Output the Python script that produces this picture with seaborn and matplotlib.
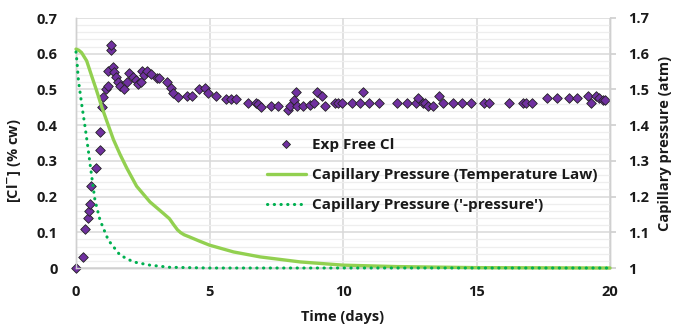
import numpy as np
import pandas as pd
import matplotlib
matplotlib.use("Agg")
import matplotlib.pyplot as plt
import seaborn as sns
from matplotlib.ticker import MultipleLocator
from matplotlib.lines import Line2D

# ---------------- data ----------------
time_exp = [0, 0.27, 0.34, 0.44, 0.50, 0.54, 0.57, 0.75, 0.90, 0.90, 0.99, 1.00, 1.11, 1.21,
            1.21, 1.30, 1.30, 1.37, 1.42, 1.49, 1.57, 1.65, 1.80, 1.90, 2.00, 2.15, 2.25, 2.33,
            2.42, 2.47, 2.55, 2.67, 2.80, 3.05, 3.12, 3.42, 3.55, 3.65, 3.83, 4.15, 4.33, 4.60,
            4.83, 4.96, 5.25, 5.60, 5.80, 6.00, 6.45, 6.74, 6.83, 6.93, 7.30, 7.58, 7.93, 8.01,
            8.15, 8.24, 8.27, 8.51, 8.78, 8.91, 9.02, 9.22, 9.33, 9.70, 9.82, 9.97, 10.33, 10.64,
            10.76, 10.98, 11.36, 12.03, 12.38, 12.73, 12.82, 12.99, 13.07, 13.20, 13.38, 13.61,
            13.76, 14.11, 14.45, 14.78, 15.29, 15.48, 16.23, 16.73, 16.85, 17.07, 17.63, 18.00,
            18.48, 18.75, 19.19, 19.28, 19.48, 19.60, 19.73, 19.81]
cl_exp = [0.0, 0.03, 0.11, 0.14, 0.16, 0.18, 0.23, 0.28, 0.33, 0.38, 0.45, 0.48, 0.50, 0.51,
          0.552, 0.61, 0.624, 0.563, 0.549, 0.535, 0.521, 0.509, 0.50, 0.521, 0.545, 0.535, 0.526, 0.514,
          0.521, 0.552, 0.54, 0.552, 0.543, 0.533, 0.531, 0.521, 0.503, 0.49, 0.479, 0.481, 0.481, 0.50,
          0.503, 0.49, 0.481, 0.472, 0.472, 0.472, 0.463, 0.463, 0.459, 0.452, 0.453, 0.453, 0.443, 0.453,
          0.471, 0.492, 0.453, 0.453, 0.457, 0.462, 0.492, 0.481, 0.453, 0.462, 0.462, 0.462, 0.462, 0.462,
          0.492, 0.462, 0.462, 0.462, 0.462, 0.462, 0.475, 0.462, 0.462, 0.453, 0.453, 0.481,
          0.462, 0.462, 0.461, 0.461, 0.461, 0.461, 0.461, 0.461, 0.461, 0.461, 0.475, 0.475,
          0.475, 0.475, 0.482, 0.462, 0.482, 0.475, 0.470, 0.470]

time_temp = [0, 0.10, 0.21, 0.40, 0.59, 0.77, 0.96, 1.15, 1.40, 1.65, 1.90, 2.27, 2.77, 3.27,
             3.50, 3.65, 3.80, 3.92, 4.05, 4.25, 4.60, 5.00, 5.90, 6.90, 8.40, 10, 12, 15, 20]
p_temp = [1.613, 1.610, 1.603, 1.580, 1.537, 1.497, 1.452, 1.412, 1.360, 1.318, 1.280, 1.229,
          1.185, 1.153, 1.138, 1.122, 1.107, 1.099, 1.093, 1.087, 1.076, 1.064, 1.045, 1.031,
          1.017, 1.008, 1.004, 1.001, 1.000]

time_pres = [0, 0.04, 0.09, 0.21, 0.34, 0.46, 0.60, 0.71, 0.90, 1.21, 1.65, 2.15, 2.77, 3.5, 5, 20]
p_pres = [1.605, 1.575, 1.526, 1.460, 1.395, 1.330, 1.250, 1.190, 1.134, 1.078, 1.036, 1.017,
          1.008, 1.002, 1.000, 1.000]

label_exp = "Exp Free Cl"
label_temp = "Capillary Pressure (Temperature Law)"
label_pres = "Capillary Pressure ('-pressure')"

df_exp = pd.DataFrame({"t": time_exp, "c": cl_exp})
df_temp = pd.DataFrame({"t": time_temp, "p": p_temp})
df_pres = pd.DataFrame({"t": time_pres, "p": p_pres})

# ---------------- style ----------------
sns.set_theme(style="white")
plt.rcParams["font.family"] = ["Open Sans", "DejaVu Sans"]
plt.rcParams["font.weight"] = "bold"
plt.rcParams["mathtext.default"] = "bf"
txt = "#1a1a1a"
FS = 10.5
LFS = 11

fig = plt.figure(figsize=(6.76, 3.30), dpi=100)
ax = fig.add_axes([76 / 676, 1 - 268 / 330, (610 - 76) / 676, (268 - 18) / 330])
ax2 = ax.twinx()

purple = "#7030A0"
light_green = "#92D050"
green = "#00B050"

sns.scatterplot(data=df_exp, x="t", y="c", ax=ax, marker="D", s=24, color=purple,
                edgecolor="#222222", linewidth=0.6, zorder=3, clip_on=False, legend=False)
sns.lineplot(data=df_temp, x="t", y="p", ax=ax2, color=light_green, lw=2.4,
             legend=False, clip_on=False, zorder=4)
sns.lineplot(data=df_pres, x="t", y="p", ax=ax2, color=green, lw=2.2,
             linestyle=(0, (0.1, 2.1)), dash_capstyle="round", legend=False,
             clip_on=False, zorder=4)

ax.set_xlim(0, 20)
ax.set_ylim(0, 0.7)
ax2.set_ylim(1, 1.7)

ax.xaxis.set_major_locator(MultipleLocator(5))
ax.yaxis.set_major_locator(MultipleLocator(0.1))
ax.yaxis.set_minor_locator(MultipleLocator(0.02))
ax2.yaxis.set_major_locator(MultipleLocator(0.1))

ax.grid(True, which="major", axis="both", color="#d9d9d9", lw=1.1)
ax.grid(True, which="minor", axis="y", color="#eeeeee", lw=0.9)
ax.set_axisbelow(True)

for a in (ax, ax2):
    for s in a.spines.values():
        s.set_color("#d0d0d0")
        s.set_linewidth(1.0)
    a.spines["top"].set_visible(False)

ax.tick_params(axis="y", which="both", length=0, pad=13, labelsize=FS, labelcolor=txt)
ax.tick_params(axis="x", which="both", length=0, pad=12, labelsize=FS, labelcolor=txt)
ax2.tick_params(axis="y", which="major", length=4, color="#d0d0d0", pad=9, labelsize=FS,
                labelcolor=txt)
ax2.tick_params(axis="y", which="minor", length=0)

ax.set_xticks([0, 5, 10, 15, 20])
ax.set_xticklabels(["0", "5", "10", "15", "20"], fontweight="bold")
ax.set_yticks(np.arange(0, 0.71, 0.1))
ax.set_yticklabels(["0", "0.1", "0.2", "0.3", "0.4", "0.5", "0.6", "0.7"], fontweight="bold")
ax2.set_yticks(np.arange(1, 1.71, 0.1))
ax2.set_yticklabels(["1", "1.1", "1.2", "1.3", "1.4", "1.5", "1.6", "1.7"], fontweight="bold")

ax.set_xlabel("Time (days)", fontsize=FS, fontweight="bold", color=txt)
ax.set_ylabel(r"[Cl$^{-}$] (% cw)", fontsize=FS, fontweight="bold", color=txt)
ax2.set_ylabel("Capillary pressure (atm)", fontsize=FS, fontweight="bold", color=txt)
ax.xaxis.set_label_coords(0.5, -0.17)
ax.yaxis.set_label_coords(-0.1, 0.43)
ax2.yaxis.set_label_coords(1.09, 0.5)

handles = [
    Line2D([], [], marker="D", ls="none", markersize=4.3, markerfacecolor=purple,
           markeredgecolor="#222222", markeredgewidth=0.6),
    Line2D([], [], color=light_green, lw=2.4),
    Line2D([], [], color=green, lw=2.2, linestyle=(0, (0.1, 2.1)), dash_capstyle="round"),
]
leg = ax2.legend(handles, [label_exp, label_temp, label_pres], loc="upper left",
                 bbox_to_anchor=(0.357, 0.52), frameon=False, fontsize=LFS,
                 handlelength=2.6, handletextpad=0.35, labelspacing=1.05, borderpad=0,
                 borderaxespad=0)
for t in leg.get_texts():
    t.set_fontweight("bold")
    t.set_color(txt)

fig.savefig("out.png", dpi=100)
